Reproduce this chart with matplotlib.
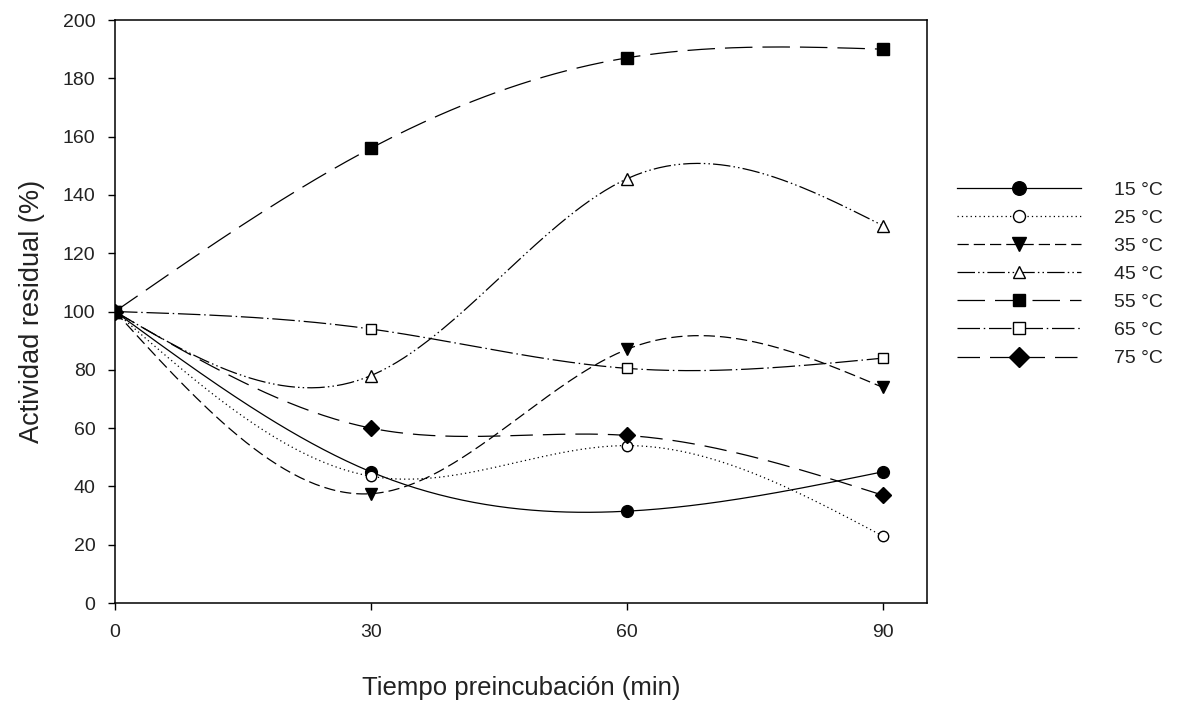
import numpy as np
import matplotlib
matplotlib.use('Agg')
import matplotlib.pyplot as plt

plt.rcParams['font.family'] = ['Liberation Sans', 'DejaVu Sans']

tiempo = [0, 30, 60, 90]
temps = ['15 °C', '25 °C', '35 °C', '45 °C', '55 °C', '65 °C', '75 °C']
a15 = [100, 45, 31.5, 45]
a25 = [100, 43.5, 54, 23]
a35 = [100, 37.5, 87, 74]
a45 = [100, 78, 145.5, 129.5]
a55 = [100, 156, 187, 190]
a65 = [100, 94, 80.5, 84]
a75 = [100, 60, 57.5, 37]
series = [a15, a25, a35, a45, a55, a65, a75]

markers = ['o', 'o', 'v', '^', 's', 's', 'D']
filled = [True, False, True, False, True, False, True]
dashes = [None, (1, 2.5), (9, 4), (14, 2.5, 1.2, 2.5, 1.2, 2.5),
          (22, 8), (18, 3, 1.2, 3), (18, 8)]
msizes = [8.5, 7.5, 8.5, 8, 8, 7.5, 8.5]


def spline(x, y, n=200):
    # natural cubic spline through the points, like SigmaPlot's spline curve
    x = np.asarray(x, float)
    y = np.asarray(y, float)
    k = len(x)
    h = np.diff(x)
    A = np.zeros((k, k))
    b = np.zeros(k)
    A[0, 0] = A[-1, -1] = 1
    for i in range(1, k - 1):
        A[i, i - 1] = h[i - 1]
        A[i, i] = 2 * (h[i - 1] + h[i])
        A[i, i + 1] = h[i]
        b[i] = 6 * ((y[i + 1] - y[i]) / h[i] - (y[i] - y[i - 1]) / h[i - 1])
    M = np.linalg.solve(A, b)
    xs = np.linspace(x[0], x[-1], n)
    ys = np.empty_like(xs)
    for j, t in enumerate(xs):
        i = min(np.searchsorted(x, t, side='right') - 1, k - 2)
        a = x[i + 1] - t
        c = t - x[i]
        ys[j] = (M[i] * a ** 3 + M[i + 1] * c ** 3) / (6 * h[i]) \
            + (y[i] / h[i] - M[i] * h[i] / 6) * a \
            + (y[i + 1] / h[i] - M[i + 1] * h[i] / 6) * c
    return xs, ys


fig = plt.figure(figsize=(11.83, 7.02), dpi=100)
ax = fig.add_axes([0.0972, 0.141, 0.6864, 0.8305])

handles = []
for vals, lab, m, f, d, ms in zip(series, temps, markers, filled, dashes, msizes):
    xs, ys = spline(tiempo, vals)
    ln, = ax.plot(xs, ys, color='black', lw=0.9)
    if d is not None:
        ln.set_dashes(d)
    ax.plot(tiempo, vals, linestyle='none', marker=m, ms=ms,
            mfc='black' if f else 'white', mec='black', mew=1.0, zorder=3)
    h, = ax.plot([], [], color='black', lw=0.9, marker=m, ms=ms,
                 mfc='black' if f else 'white', mec='black', mew=1.0)
    if d is not None:
        h.set_dashes(d)
    handles.append(h)

ax.set_xlim(0, 95.2)
ax.set_ylim(0, 200)
ax.set_xticks([0, 30, 60, 90])
ax.set_yticks(range(0, 201, 20))
ax.tick_params(direction='out', length=5, width=1, labelsize=14,
               labelcolor='#222222')
ax.tick_params(axis='y', pad=9)
ax.tick_params(axis='x', pad=10)
for s in ax.spines.values():
    s.set_linewidth(1.1)

ax.set_xlabel('Tiempo preincubación (min)', fontsize=18.5, labelpad=25,
              color='#222222')
ax.set_ylabel('Actividad residual (%)', fontsize=19.5, labelpad=13,
              color='#222222')

leg = fig.legend(handles, temps, loc='upper left', bbox_to_anchor=(0.794, 0.767),
                 frameon=False, fontsize=14, handlelength=6.4, numpoints=1,
                 labelspacing=0.54, handletextpad=1.7, markerscale=1.15)
for t in leg.get_texts():
    t.set_color('#222222')

fig.savefig('out.png', dpi=100)
